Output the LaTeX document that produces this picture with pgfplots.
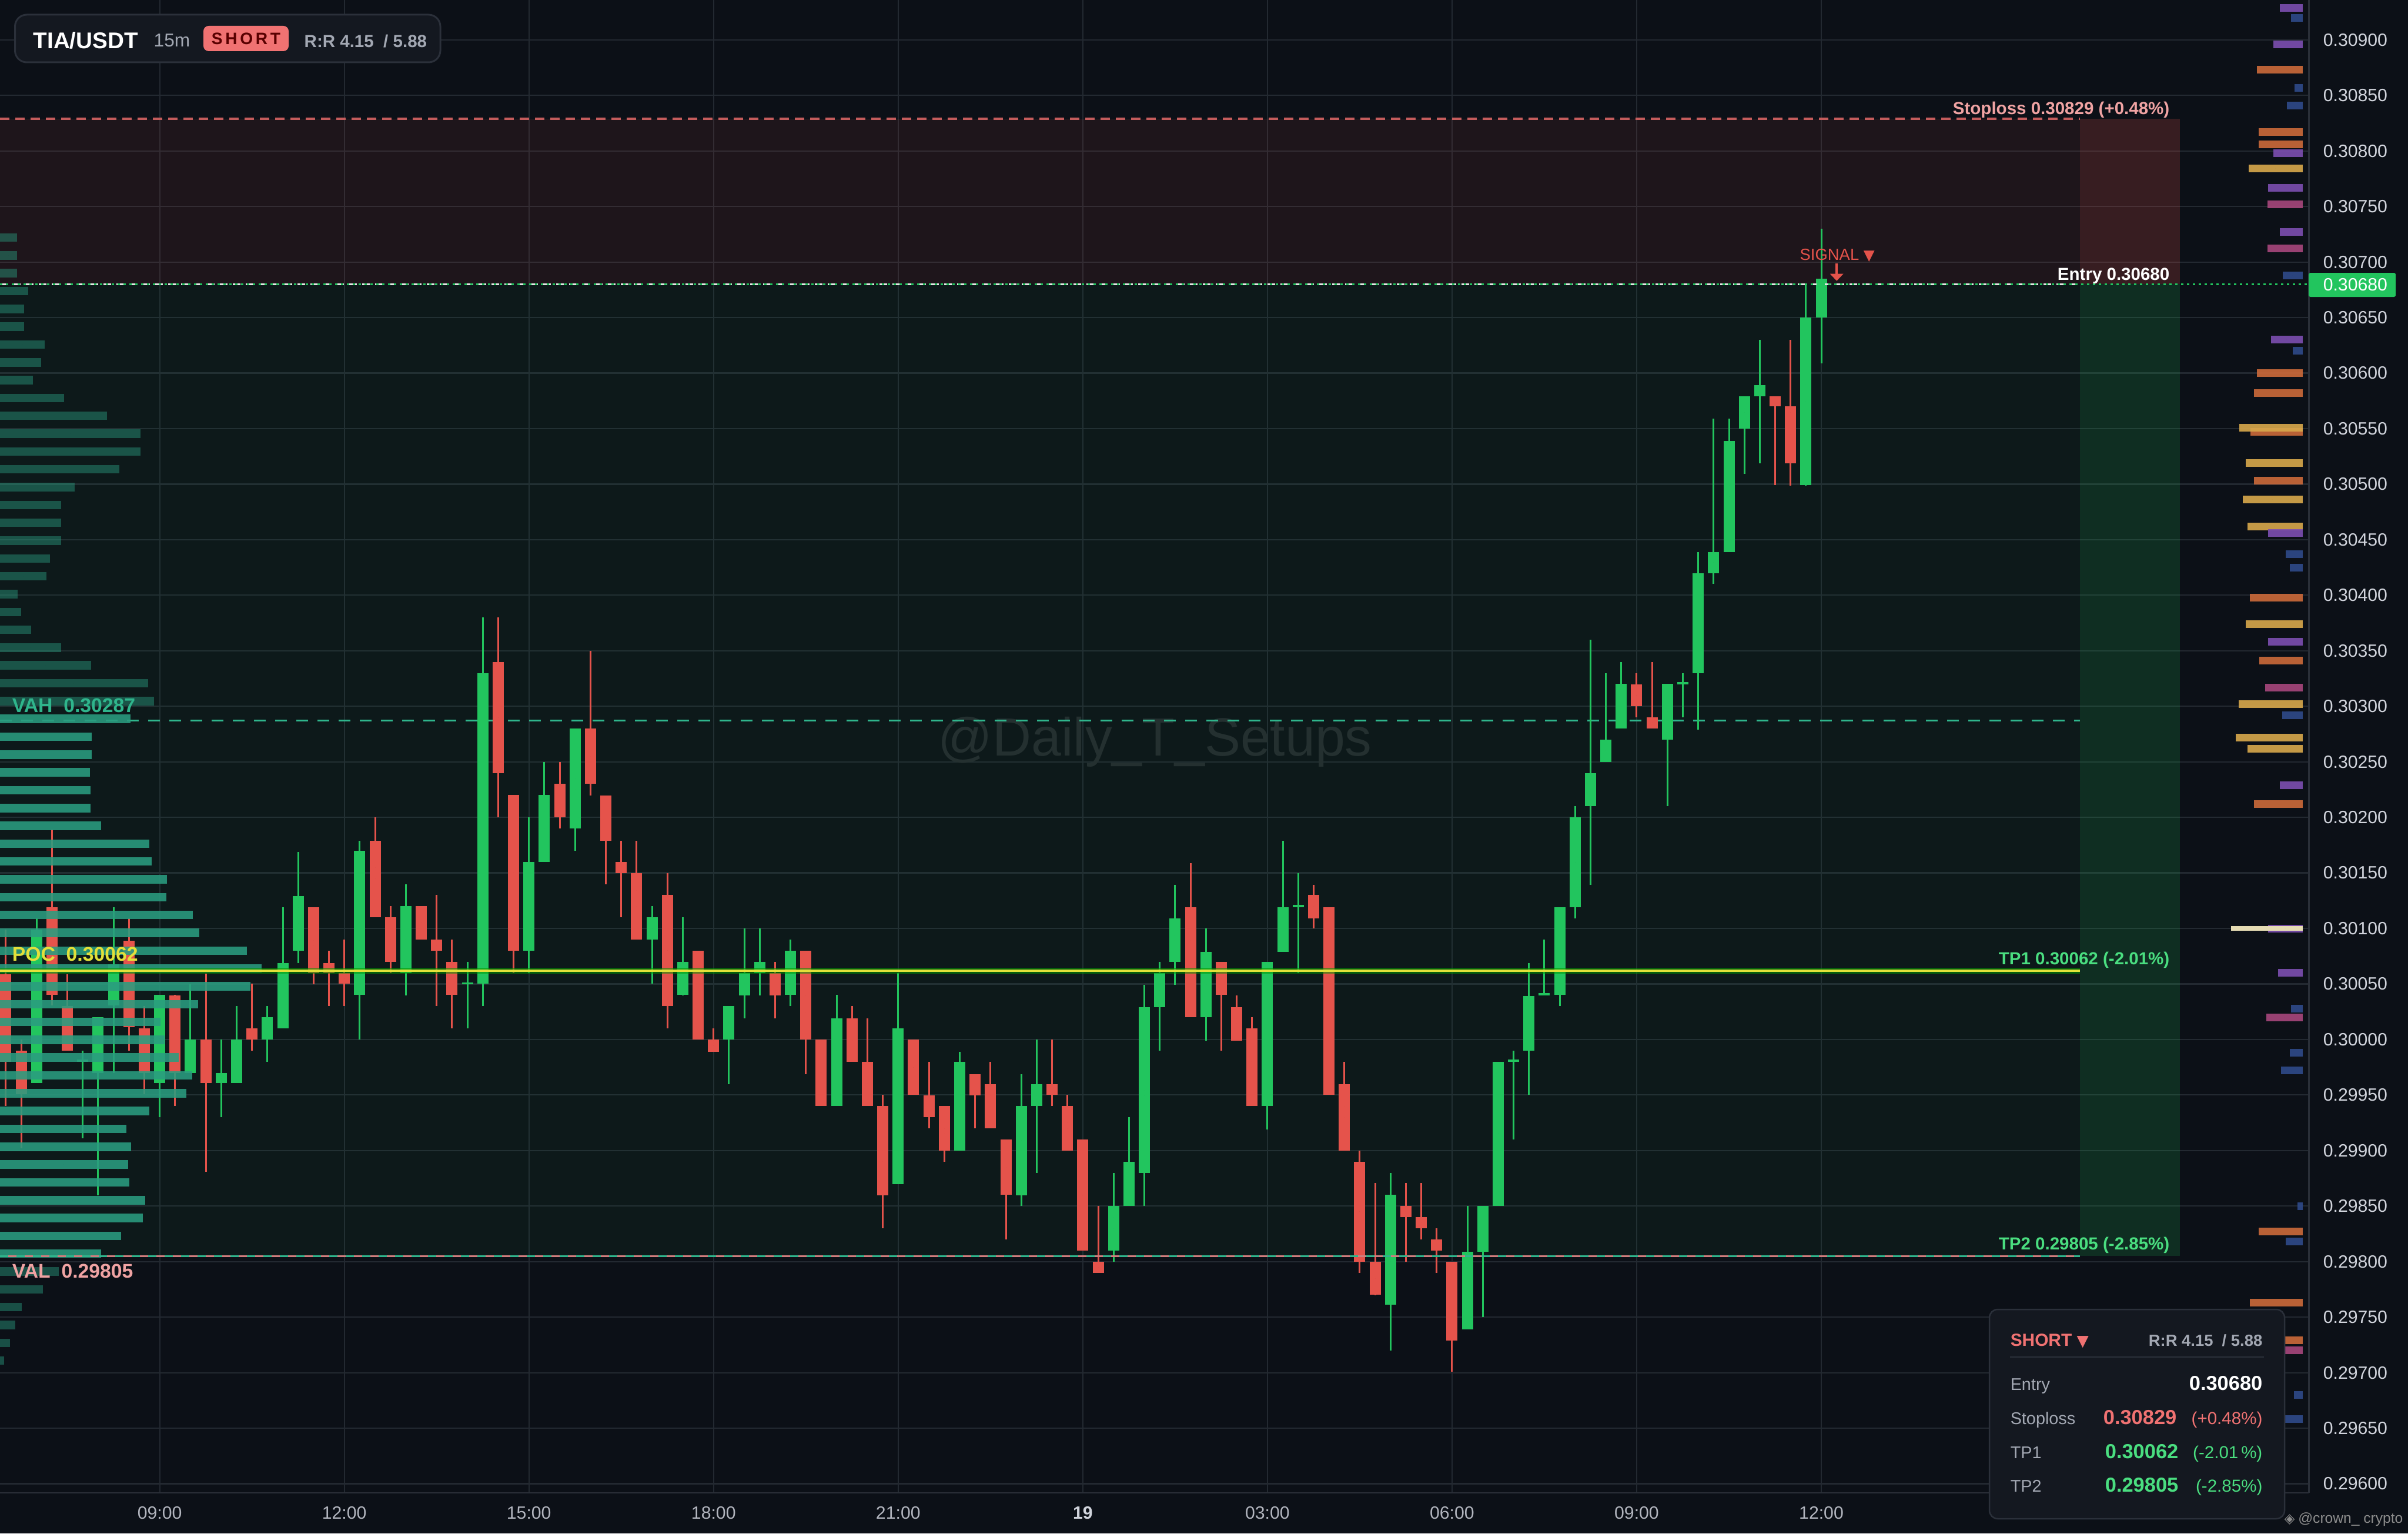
\documentclass[border=0pt]{standalone}
\usepackage{fontspec}
\setmainfont{Liberation Sans}
\newfontfamily\dejavu{DejaVu Sans}
\usepackage{pgfplots}
\usepackage{pgfplotstable}
\pgfplotsset{compat=1.18}
\usetikzlibrary{arrows.meta}
\newcommand\fs[1]{\fontsize{#1}{#1}\selectfont}
\definecolor{bgnavy}{HTML}{0C1017}
\definecolor{gridc}{HTML}{232931}
\definecolor{axisline}{HTML}{2A2F38}
\definecolor{cgreen}{HTML}{22C55E}
\definecolor{cred}{HTML}{E5534B}
\definecolor{vteal}{HTML}{2A9D80}
\definecolor{slc}{HTML}{C45C5C}
\definecolor{sltext}{HTML}{F0A3A3}
\definecolor{tpgreen}{HTML}{4ADE80}
\definecolor{pocc}{HTML}{E2E03A}
\definecolor{vahc}{HTML}{2FB58C}
\definecolor{tickc}{HTML}{B2B5BE}
\definecolor{ytickc}{HTML}{D1D4DC}
\definecolor{wmc}{HTML}{243030}
\definecolor{hpurple}{HTML}{7D4FB0}
\definecolor{horange}{HTML}{CC6A3A}
\definecolor{hgold}{HTML}{D8A84C}
\definecolor{hblue}{HTML}{2F4A8A}
\definecolor{hpink}{HTML}{A8477C}
\definecolor{hcream}{HTML}{E6DCB4}
\definecolor{coral}{HTML}{F07272}
\definecolor{panelbg}{HTML}{141820}
\definecolor{panelborder}{HTML}{2B303A}
\definecolor{graytext}{HTML}{A3A8B3}

\pgfplotstableread{
i o h l c
-8 0.29961 0.30109 0.29961 0.30099
-5 0.29980 0.29990 0.29911 0.29982
-4 0.29970 0.30020 0.29860 0.30020
-3 0.30031 0.30119 0.29970 0.30068
0 0.29961 0.30040 0.29930 0.30040
2 0.29970 0.30050 0.29970 0.30000
4 0.29961 0.30000 0.29930 0.29970
5 0.29961 0.30030 0.29961 0.30000
7 0.30000 0.30030 0.29980 0.30020
8 0.30010 0.30119 0.30010 0.30069
9 0.30080 0.30169 0.30069 0.30129
13 0.30040 0.30179 0.30000 0.30170
16 0.30060 0.30140 0.30040 0.30120
20 0.30050 0.30070 0.30010 0.30051
21 0.30050 0.30380 0.30030 0.30330
24 0.30080 0.30200 0.30060 0.30160
25 0.30160 0.30250 0.30160 0.30220
27 0.30190 0.30280 0.30170 0.30280
32 0.30090 0.30120 0.30050 0.30110
34 0.30040 0.30110 0.30040 0.30070
37 0.30000 0.30030 0.29960 0.30030
38 0.30040 0.30100 0.30019 0.30060
39 0.30060 0.30100 0.30040 0.30070
41 0.30040 0.30090 0.30030 0.30080
44 0.29940 0.30040 0.29940 0.30019
48 0.29870 0.30060 0.29870 0.30010
52 0.29900 0.29989 0.29900 0.29980
56 0.29860 0.29969 0.29850 0.29940
57 0.29940 0.30000 0.29880 0.29960
62 0.29810 0.29880 0.29800 0.29850
63 0.29850 0.29930 0.29850 0.29890
64 0.29880 0.30049 0.29850 0.30029
65 0.30029 0.30070 0.29990 0.30060
66 0.30070 0.30139 0.30049 0.30109
68 0.30020 0.30100 0.29999 0.30079
72 0.29940 0.30070 0.29919 0.30070
73 0.30079 0.30179 0.30079 0.30119
74 0.30119 0.30150 0.30060 0.30121
80 0.29761 0.29880 0.29720 0.29860
85 0.29739 0.29850 0.29739 0.29809
86 0.29809 0.29850 0.29750 0.29850
87 0.29850 0.29980 0.29850 0.29980
88 0.29980 0.29990 0.29910 0.29982
89 0.29990 0.30069 0.29950 0.30039
90 0.30040 0.30090 0.30040 0.30042
91 0.30040 0.30119 0.30030 0.30119
92 0.30119 0.30210 0.30109 0.30200
93 0.30210 0.30360 0.30139 0.30240
94 0.30250 0.30330 0.30250 0.30270
95 0.30280 0.30340 0.30280 0.30320
98 0.30270 0.30320 0.30210 0.30320
99 0.30320 0.30330 0.30290 0.30322
100 0.30330 0.30439 0.30279 0.30420
101 0.30420 0.30559 0.30410 0.30439
102 0.30439 0.30559 0.30439 0.30539
103 0.30550 0.30579 0.30509 0.30579
104 0.30579 0.30630 0.30519 0.30589
107 0.30499 0.30680 0.30499 0.30650
108 0.30650 0.30730 0.30609 0.30685
}\greenc

\pgfplotstableread{
i o h l c
-10 0.30059 0.30099 0.29940 0.29980
-9 0.29990 0.30000 0.29902 0.29951
-7 0.30119 0.30189 0.30031 0.30040
-6 0.30030 0.30059 0.29990 0.29990
-2 0.30089 0.30109 0.29990 0.30011
-1 0.30010 0.30030 0.29951 0.29970
1 0.30040 0.30040 0.29940 0.29970
3 0.30000 0.30059 0.29881 0.29961
6 0.30010 0.30050 0.29990 0.30000
10 0.30119 0.30119 0.30050 0.30060
11 0.30069 0.30080 0.30030 0.30060
12 0.30060 0.30090 0.30030 0.30050
14 0.30179 0.30200 0.30110 0.30110
15 0.30110 0.30120 0.30060 0.30070
17 0.30120 0.30120 0.30090 0.30090
18 0.30090 0.30130 0.30030 0.30080
19 0.30070 0.30090 0.30010 0.30040
22 0.30340 0.30380 0.30200 0.30240
23 0.30220 0.30220 0.30060 0.30080
26 0.30230 0.30250 0.30190 0.30200
28 0.30280 0.30350 0.30220 0.30230
29 0.30220 0.30220 0.30140 0.30179
30 0.30160 0.30179 0.30110 0.30150
31 0.30150 0.30179 0.30090 0.30090
33 0.30130 0.30150 0.30010 0.30030
35 0.30080 0.30080 0.30000 0.30000
36 0.30000 0.30010 0.29989 0.29989
40 0.30060 0.30070 0.30019 0.30040
42 0.30080 0.30080 0.29969 0.30000
43 0.30000 0.30000 0.29940 0.29940
45 0.30019 0.30030 0.29980 0.29980
46 0.29980 0.30019 0.29940 0.29940
47 0.29940 0.29950 0.29830 0.29860
49 0.30000 0.30000 0.29950 0.29950
50 0.29950 0.29980 0.29920 0.29930
51 0.29940 0.29940 0.29890 0.29900
53 0.29969 0.29969 0.29920 0.29950
54 0.29960 0.29980 0.29920 0.29920
55 0.29910 0.29910 0.29820 0.29860
58 0.29960 0.30000 0.29940 0.29950
59 0.29940 0.29950 0.29900 0.29900
60 0.29910 0.29910 0.29810 0.29810
61 0.29800 0.29850 0.29790 0.29790
67 0.30119 0.30159 0.30020 0.30020
69 0.30070 0.30070 0.29990 0.30040
70 0.30029 0.30040 0.29999 0.29999
71 0.30010 0.30020 0.29940 0.29940
75 0.30130 0.30139 0.30100 0.30109
76 0.30119 0.30119 0.29950 0.29950
77 0.29960 0.29980 0.29900 0.29900
78 0.29890 0.29900 0.29790 0.29800
79 0.29800 0.29871 0.29770 0.29770
81 0.29850 0.29871 0.29800 0.29840
82 0.29840 0.29871 0.29820 0.29830
83 0.29820 0.29830 0.29790 0.29810
84 0.29800 0.29800 0.29701 0.29729
96 0.30320 0.30330 0.30290 0.30300
97 0.30290 0.30340 0.30280 0.30280
105 0.30579 0.30579 0.30499 0.30570
106 0.30570 0.30630 0.30499 0.30519
}\redc

\pgfplotstableread{
k w
0 29
1 29
2 29
3 48
4 41
5 41
6 76
7 70
8 56
9 109
10 182
11 239
12 239
13 203
14 127
15 104
16 104
17 104
18 85
19 79
20 30
21 36
22 53
23 104
24 155
25 252
26 262
58 100
59 73
60 37
61 26
62 17
63 7
}\profdark

\pgfplotstableread{
k w
27 222
28 156
29 156
30 153
31 154
32 154
33 172
34 254
35 258
36 284
37 283
38 328
39 339
40 420
41 445
42 426
43 337
44 273
45 280
46 304
47 327
48 317
49 254
50 215
51 223
52 218
53 220
54 247
55 243
56 206
57 172
}\profbright

\pgfplotstableread{
p x0
0.30873 136.32
0.30817 136.42
0.30806 136.42
0.30600 136.32
0.30582 136.13
0.30547 135.91
0.30503 136.13
0.30398 135.85
0.30341 136.48
0.30212 136.13
0.29827 136.42
0.29763 135.85
0.29729 138.14
}\horangeT

\pgfplotstableread{
p x0
0.30784 135.78
0.30551 135.18
0.30519 135.59
0.30486 135.40
0.30462 135.69
0.30374 135.59
0.30302 135.14
0.30272 134.95
0.30262 135.69
}\hgoldT

\pgfplotstableread{
p x0
0.30752 136.99
0.30712 136.99
0.30317 136.86
0.30020 136.93
0.29720 138.14
}\hpinkT

\pgfplotstableread{
p x0
0.30929 137.82
0.30896 137.38
0.30798 137.40
0.30767 137.05
0.30727 137.82
0.30630 137.24
0.30456 137.05
0.30358 137.05
0.30229 137.82
0.30100 137.05
0.30060 137.69
}\hpurpleT

\pgfplotstableread{
p x0
0.30920 138.52
0.30857 138.77
0.30841 138.27
0.30688 138.01
0.30620 138.65
0.30437 138.20
0.30425 138.46
0.30292 137.95
0.30028 138.52
0.29988 138.46
0.29972 137.88
0.29850 138.97
0.29818 138.20
0.29680 138.71
0.29658 138.14
}\hblueT

\pgfplotstableread{
p x0
0.30100 134.64
}\hcreamT

\pgfplotsset{
  candle/.style n args={2}{only marks, mark=none, mark size=0pt,
    mark options={draw=none, fill=none}, forget plot,
    error bars/.cd, y dir=both, y explicit, error mark=none,
    error bar style={line width=#2, color=#1}},
  hbar/.style n args={3}{only marks, mark=none, mark size=0pt,
    mark options={draw=none, fill=none}, forget plot,
    error bars/.cd, x dir=both, x explicit, error mark=none,
    error bar style={line width=#2, color=#1, opacity=#3}},
}

\begin{document}
\begin{tikzpicture}[x=1mm,y=1mm]
\fill[bgnavy] (0,0) rectangle (409.6,-260.8);
\begin{axis}[
  at={(0,0)}, anchor=north west,
  width=392.7mm, height=253.9mm, scale only axis,
  xmin=-10.38, xmax=139.68, ymin=0.295918, ymax=0.309359,
  clip=false,
  axis x line*=bottom, axis y line*=right,
  x axis line style={draw=axisline, line width=0.25mm},
  y axis line style={draw=axisline, line width=0.3mm},
  tick style={draw=none},
  xtick={0,12,24,36,48,60,72,84,96,108},
  xticklabels={09:00,12:00,15:00,18:00,21:00,{\color{ytickc}\bfseries 19},03:00,06:00,09:00,12:00},
  ytick={0.296,0.2965,0.297,0.2975,0.298,0.2985,0.299,0.2995,0.300,0.3005,0.301,0.3015,0.302,0.3025,0.303,0.3035,0.304,0.3045,0.305,0.3055,0.306,0.3065,0.307,0.3075,0.308,0.3085,0.309},
  /pgf/number format/assume math mode=true,
  yticklabel={\pgfmathprintnumber[fixed,fixed zerofill,precision=5]{\tick}},
  grid=major,
  major grid style={draw=gridc, line width=0.22mm},
  ticklabel style={font=\fs{8.6}},
  xticklabel style={text=tickc, anchor=base, yshift=-4.4mm, inner sep=0pt},
  yticklabel style={text=ytickc, anchor=west, xshift=2.4mm, inner sep=0pt},
]
% trade zones (translucent, grid shows through)
\addplot[fill=cred, fill opacity=0.085, draw=none, forget plot]
  coordinates {(-10.38,0.30680) (124.8,0.30680) (124.8,0.30829) (-10.38,0.30829)};
\addplot[fill=cgreen, fill opacity=0.05, draw=none, forget plot]
  coordinates {(-10.38,0.29805) (124.8,0.29805) (124.8,0.30680) (-10.38,0.30680)};
\addplot[fill=cred, fill opacity=0.2, draw=none, forget plot]
  coordinates {(124.8,0.30680) (131.3,0.30680) (131.3,0.30829) (124.8,0.30829)};
\addplot[fill=cgreen, fill opacity=0.17, draw=none, forget plot]
  coordinates {(124.8,0.29805) (131.3,0.29805) (131.3,0.30680) (124.8,0.30680)};

% watermark
\node[text=wmc, inner sep=0pt] at (axis cs:64.7,0.30268) {\fs{26}@Daily\_T\_Setups};

% VAH line
\addplot[forget plot, vahc, line width=0.3mm, dash pattern=on 2mm off 1.6mm]
  coordinates {(-10.38,0.30287) (124.8,0.30287)};

% candles: wicks then bodies
\addplot[candle={cgreen}{0.3mm}] table[x=i, y expr={(\thisrow{h}+\thisrow{l})/2}, y error expr={(\thisrow{h}-\thisrow{l})/2}] {\greenc};
\addplot[candle={cred}{0.3mm}] table[x=i, y expr={(\thisrow{h}+\thisrow{l})/2}, y error expr={(\thisrow{h}-\thisrow{l})/2}] {\redc};
\addplot[candle={cgreen}{1.9mm}] table[x=i, y expr={(\thisrow{o}+\thisrow{c})/2}, y error expr={max(abs(\thisrow{c}-\thisrow{o})/2,0.000008)}] {\greenc};
\addplot[candle={cred}{1.9mm}] table[x=i, y expr={(\thisrow{o}+\thisrow{c})/2}, y error expr={max(abs(\thisrow{c}-\thisrow{o})/2,0.000008)}] {\redc};

% volume profile
\addplot[hbar={vteal}{1.45mm}{0.45}] table[x expr={-10.38+\thisrow{w}/52.34}, y expr={0.30722-\thisrow{k}*0.0001605}, x error expr={\thisrow{w}/52.34}] {\profdark};
\addplot[hbar={vteal}{1.45mm}{0.88}] table[x expr={-10.38+\thisrow{w}/52.34}, y expr={0.30722-\thisrow{k}*0.0001605}, x error expr={\thisrow{w}/52.34}] {\profbright};

% liquidity heat bars at the right
\addplot[hbar={horange}{1.3mm}{0.9}] table[x expr={(\thisrow{x0}+139.28)/2}, y=p, x error expr={(139.28-\thisrow{x0})/2}] {\horangeT};
\addplot[hbar={hgold}{1.3mm}{0.9}] table[x expr={(\thisrow{x0}+139.28)/2}, y=p, x error expr={(139.28-\thisrow{x0})/2}] {\hgoldT};
\addplot[hbar={hpink}{1.3mm}{0.9}] table[x expr={(\thisrow{x0}+139.28)/2}, y=p, x error expr={(139.28-\thisrow{x0})/2}] {\hpinkT};
\addplot[hbar={hpurple}{1.3mm}{0.9}] table[x expr={(\thisrow{x0}+139.28)/2}, y=p, x error expr={(139.28-\thisrow{x0})/2}] {\hpurpleT};
\addplot[hbar={hblue}{1.3mm}{0.9}] table[x expr={(\thisrow{x0}+139.28)/2}, y=p, x error expr={(139.28-\thisrow{x0})/2}] {\hblueT};
\addplot[hbar={hcream}{0.8mm}{1}] table[x expr={(\thisrow{x0}+139.28)/2}, y=p, x error expr={(139.28-\thisrow{x0})/2}] {\hcreamT};

% stoploss
\addplot[forget plot, slc, line width=0.35mm, dash pattern=on 1.6mm off 1mm]
  coordinates {(-10.38,0.30829) (124.8,0.30829)};
% entry
\addplot[forget plot, color=white!80!gray, line width=0.3mm, dash pattern=on 1.3mm off 0.9mm]
  coordinates {(-10.38,0.30680) (124.8,0.30680)};
\addplot[forget plot, cgreen, line width=0.25mm, dash pattern=on 0.35mm off 0.65mm]
  coordinates {(-10.38,0.30680) (139.68,0.30680)};
% POC / TP1
\addplot[forget plot, color=green!60!black, opacity=0.55, line width=1.0mm]
  coordinates {(-10.38,0.30062) (124.8,0.30062)};
\addplot[forget plot, pocc, line width=0.4mm]
  coordinates {(-10.38,0.30062) (124.8,0.30062)};
% TP2 / VAL
\addplot[forget plot, vahc, line width=0.3mm, dash pattern=on 1.4mm off 1.4mm]
  coordinates {(-10.38,0.29805) (124.8,0.29805)};
\addplot[forget plot, slc!80!white, line width=0.3mm, dash pattern=on 1.4mm off 1.4mm, dash phase=1.4mm]
  coordinates {(-10.38,0.29805) (124.8,0.29805)};

% left labels
\node[anchor=west, inner sep=0pt, text=vahc] at (axis cs:-9.61,0.303007) {\fs{9.6}\bfseries VAH\ \ 0.30287};
\node[anchor=west, inner sep=0pt, text=pocc] at (axis cs:-9.61,0.300768) {\fs{9.6}\bfseries POC\ \ 0.30062};
\node[anchor=west, inner sep=0pt, text=sltext] at (axis cs:-9.61,0.297914) {\fs{9.6}\bfseries VAL\ \ 0.29805};
% right labels
\node[anchor=east, inner sep=0pt, text=sltext] at (axis cs:130.66,0.308370) {\fs{8.4}\bfseries Stoploss 0.30829 (+0.48\%)};
\node[anchor=east, inner sep=0pt, text=white] at (axis cs:130.66,0.306877) {\fs{8.4}\bfseries Entry 0.30680};
\node[anchor=east, inner sep=0pt, text=tpgreen] at (axis cs:130.66,0.300715) {\fs{8.4}\bfseries TP1 0.30062 (-2.01\%)};
\node[anchor=east, inner sep=0pt, text=tpgreen] at (axis cs:130.66,0.298147) {\fs{8.4}\bfseries TP2 0.29805 (-2.85\%)};
% signal
\node[inner sep=0pt, text=cred] at (axis cs:109.04,0.30706) {\fs{7.8}SIGNAL {\dejavu\fs{7}▼}};
\draw[cred, line width=0.45mm, -{Triangle[width=2.2mm,length=1.2mm]}] (axis cs:109.0,0.30699) -- (axis cs:109.0,0.30683);
\end{axis}

% current price tag
\fill[cgreen, rounded corners=0.3mm] (392.7,-46.4) rectangle (407.5,-50.5);
\node[anchor=west, inner sep=0pt, text=white] at (395.1,-48.45) {\fs{8.6}0.30680};

% top-left info box
\filldraw[fill=panelbg, draw=panelborder, line width=0.3mm, rounded corners=2mm] (2.55,-2.5) rectangle (74.9,-10.6);
\node[anchor=base west, inner sep=0pt, text=white] at (5.6,-8.3) {\fs{11}\bfseries TIA/USDT};
\node[anchor=base west, inner sep=0pt, text=graytext] at (26.1,-8.0) {\fs{9}15m};
\fill[coral, rounded corners=0.9mm] (34.6,-4.4) rectangle (49.1,-8.7);
\node[inner sep=0pt, text=red!35!black] at (41.85,-6.55) {\fs{8}\bfseries S\,H\,O\,R\,T};
\node[anchor=base west, inner sep=0pt, text=graytext] at (51.7,-8.1) {\fs{8.4}\bfseries R:R 4.15\ \ / 5.88};

% bottom-right summary panel
\filldraw[fill=panelbg, draw=panelborder, line width=0.25mm, rounded corners=1.4mm] (338.4,-222.7) rectangle (388.6,-258.3);
\node[anchor=base west, inner sep=0pt, text=coral] at (341.9,-228.9) {\fs{8.5}\bfseries SHORT {\dejavu\fs{7.5}▼}};
\node[anchor=base east, inner sep=0pt, text=graytext] at (384.9,-228.9) {\fs{7.8}\bfseries R:R 4.15\ \ / 5.88};
\draw[panelborder, line width=0.25mm] (341.9,-230.8) -- (385.1,-230.8);
\node[anchor=base west, inner sep=0pt, text=graytext] at (341.9,-236.4) {\fs{8.2}Entry};
\node[anchor=base east, inner sep=0pt, text=white] at (384.9,-236.4) {\fs{9.8}\bfseries 0.30680};
\node[anchor=base west, inner sep=0pt, text=graytext] at (341.9,-242.2) {\fs{8.2}Stoploss};
\node[anchor=base east, inner sep=0pt, text=coral] at (370.3,-242.2) {\fs{9.8}\bfseries 0.30829};
\node[anchor=base east, inner sep=0pt, text=coral] at (384.9,-242.2) {\fs{8.4}(+0.48\%)};
\node[anchor=base west, inner sep=0pt, text=graytext] at (341.9,-248.0) {\fs{8.2}TP1};
\node[anchor=base east, inner sep=0pt, text=tpgreen] at (370.6,-248.0) {\fs{9.8}\bfseries 0.30062};
\node[anchor=base east, inner sep=0pt, text=tpgreen] at (384.9,-248.0) {\fs{8.4}(-2.01\,\%)};
\node[anchor=base west, inner sep=0pt, text=graytext] at (341.9,-253.7) {\fs{8.2}TP2};
\node[anchor=base east, inner sep=0pt, text=tpgreen] at (370.6,-253.7) {\fs{9.8}\bfseries 0.29805};
\node[anchor=base east, inner sep=0pt, text=tpgreen] at (384.9,-253.7) {\fs{8.4}(-2.85\%)};

% credit
\node[anchor=east, inner sep=0pt, text=gray!90!white] at (408.8,-258.4) {{\dejavu\fs{6.5}◈}\,\fs{7}@crown\_ crypto};

% fix the page to the reference frame
\pgfresetboundingbox
\path[use as bounding box] (0,0) rectangle (409.6,-260.8);
\end{tikzpicture}
\end{document}
